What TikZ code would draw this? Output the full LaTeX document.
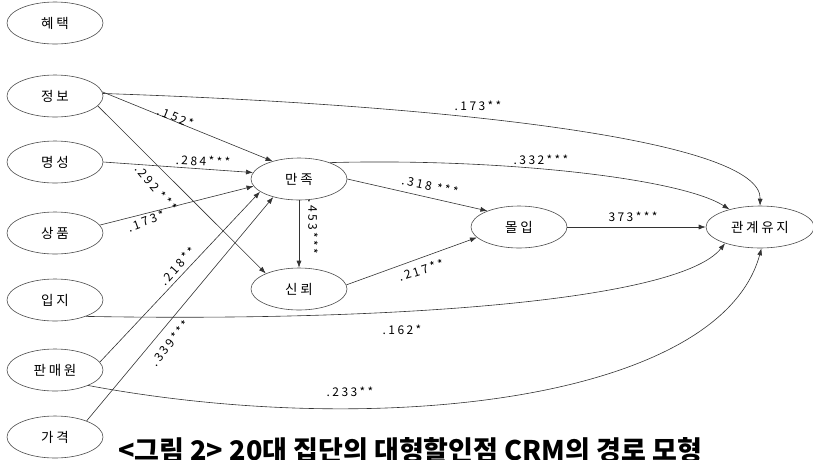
\documentclass[tikz,border=0pt]{standalone}
\usepackage{fontspec}
\newfontfamily\kr{Noto Sans CJK KR}
\newfontfamily\krnode[LetterSpace=20]{Noto Sans CJK KR}
\newfontfamily\krlab[LetterSpace=20]{Noto Sans CJK KR}
\usetikzlibrary{shapes.geometric,arrows.meta}
\begin{document}
\begin{tikzpicture}[x=1pt,y=-1pt,
  var/.style={ellipse,draw=black!70,line width=0.6pt,minimum width=96pt,minimum height=42pt,inner sep=0pt,font=\krnode\fontsize{13.5}{15}\selectfont},
  pth/.style={draw=black!80,line width=0.6pt,-{Latex[length=7pt,width=5pt]}},
  lab/.style={font=\krlab\fontsize{12}{14}\selectfont,inner sep=0pt}]
\useasboundingbox (0,0) rectangle (813,459);
% nodes
\node[var] (hy) at (55,23) {혜택};
\node[var] (jb) at (55,96) {정보};
\node[var] (ms) at (55,162) {명성};
\node[var] (sp) at (55,233) {상품};
\node[var] (ij) at (55,300) {입지};
\node[var] (pm) at (55,370) {판매원};
\node[var] (gg) at (55,437) {가격};
\node[var] (mj) at (299,179) {만족};
\node[var] (sl) at (299,289) {신뢰};
\node[var] (mr) at (519,227) {몰입};
\node[var,minimum width=108pt] (gy) at (760,227) {관계유지};
% straight paths
\draw[pth] (jb.5) -- (mj.146);
\draw[pth] (ms.east) -- (mj.172);
\draw[pth] (sp.10) -- (mj.189);
\draw[pth] (pm.10) -- (mj.198);
\draw[pth] (gg.27) -- (mj.215);
\draw[pth] (jb.-13) -- (sl.155);
\draw[pth] (mj.south) -- (sl.north);
\draw[pth] (mj.east) -- (mr.153);
\draw[pth] (sl.5) -- (mr.194);
\draw[pth] (mr.east) -- (gy.west);
% curved paths
\draw[pth] (jb.3) .. controls (450,105) and (762,140) .. (gy.north);
\draw[pth] (mj.28) .. controls (500,158) and (680,178) .. (gy.150);
\draw[pth] (ij.-28) .. controls (400,322) and (680,300) .. (gy.205);
\draw[pth] (pm.-25) .. controls (380,440) and (720,400) .. (gy.-86);
% labels
\node[lab] (l1) at (478,106) {.173**};
\node[lab,rotate=-22] (l2) at (176,117) {.152*};
\node[lab,rotate=-3] (l3) at (203,161) {.284***};
\node[lab,rotate=-50] (l4) at (156,188) {.292 ***};
\node[lab,rotate=20] (l5) at (146,221) {.173*};
\node[lab,rotate=48] (l6) at (178,266) {.218**};
\node[lab,rotate=51] (l7) at (170,343) {.339***};
\node[lab,rotate=-90] (l8) at (313,227) {.453***};
\node[lab,rotate=-12] (l9) at (430,186) {.318 ***};
\node[lab,rotate=18] (l10) at (421,270) {.217**};
\node[lab] (l11) at (541,160) {.332***};
\node[lab] (l12) at (633,217) {373***};
\node[lab] (l13) at (402,330) {.162*};
\node[lab] (l14) at (350,392) {.233**};
% caption
\node[font=\kr\bfseries\fontsize{27}{30}\selectfont,anchor=north west,inner sep=0pt] (cap) at (118,437) {<그림 2> 20대 집단의 대형할인점 CRM의 경로 모형};
\end{tikzpicture}
\end{document}
